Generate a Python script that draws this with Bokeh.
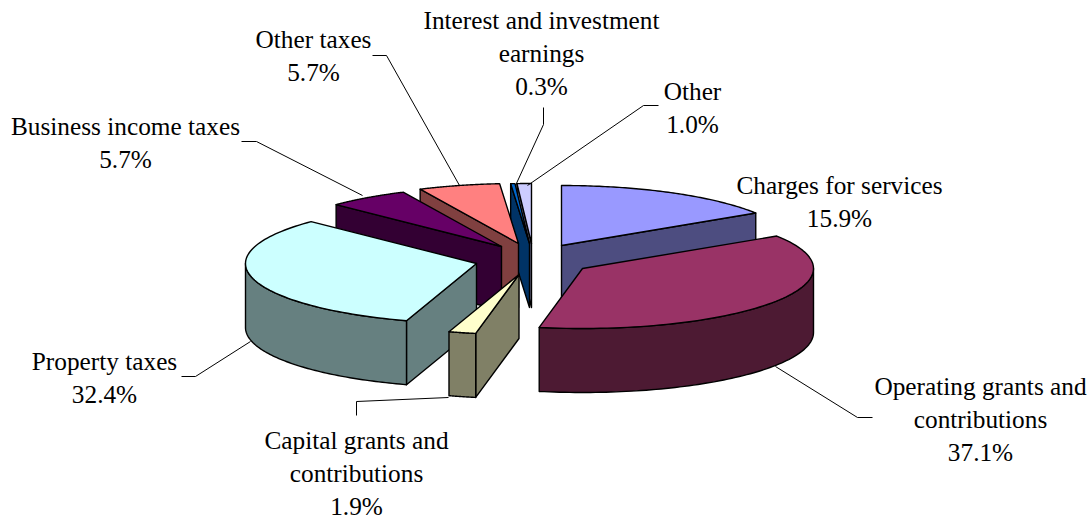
import numpy as np
from bokeh.plotting import figure
from bokeh.models import Range1d
from bokeh.core.properties import value
from bokeh.embed import file_html
from bokeh.resources import INLINE

categories = ["Charges for services", "Operating grants and contributions",
              "Capital grants and contributions", "Property taxes",
              "Business income taxes", "Other taxes",
              "Interest and investment earnings", "Other"]
shares = [15.9, 37.1, 1.9, 32.4, 5.7, 5.7, 0.3, 1.0]
label_lines = [["Charges for services"], ["Operating grants and", "contributions"],
               ["Capital grants and", "contributions"], ["Property taxes"],
               ["Business income taxes"], ["Other taxes"],
               ["Interest and investment", "earnings"], ["Other"]]

top_colors = ["#9999FF", "#993366", "#FFFFCC", "#CCFFFF", "#660066", "#FF8080", "#0066CC", "#CCCCFF"]
wall_colors = ["#4D4D80", "#4D1A33", "#808066", "#668080", "#330033", "#804040", "#003366", "#666680"]

# layout: apex of each exploded slice, in page pixels
apex_x = [561, 582, 518.5, 476, 501, 518, 529, 531]
apex_y = [245, 268, 274, 263, 246, 243, 243, 243]
RX, RY, DEPTH = 231, 60, 64
draw_order = [0, 7, 6, 5, 4, 3, 2, 1]

# layout: first text line centre and line step of each label
label_x = [839, 980, 356, 104, 125, 313, 541, 692]
label_y = [184, 385, 439, 360, 125, 38, 19, 90]
LINE_STEP = 33.3
FONT_SIZE = "25.3px"

leaders = [None,
           ((775, 857, 872), (366, 417, 417)),
           ((356, 356, 448), (415, 401, 397)),
           ((181, 195, 250), (376, 376, 341)),
           ((241, 256, 362), (141, 141, 195)),
           ((372, 386, 459), (55, 55, 185)),
           ((543, 543, 515), (107, 124, 185)),
           ((658, 643, 527), (105, 105, 185))]

W, H = 1091, 521
p = figure(width=W, height=H, output_backend="svg", toolbar_location=None,
           x_range=Range1d(0, W), y_range=Range1d(H, 0),
           min_border=0, outline_line_color=None, background_fill_color="white")
p.xaxis.visible = False
p.yaxis.visible = False
p.grid.visible = False

edges = np.cumsum([0] + shares) * 3.6


def rim(cx, cy, deg):
    r = np.radians(deg)
    return cx + RX * np.sin(r), cy - RY * np.cos(r)


LW = 1.4
for i in draw_order:
    a, b = edges[i], edges[i + 1]
    cx, cy = apex_x[i], apex_y[i]
    # radial cut faces turned towards the viewer
    if 180 <= a < 360:
        x, y = rim(cx, cy, a)
        p.patch([x, cx, cx, x], [y, cy, cy + DEPTH, y + DEPTH],
                fill_color=wall_colors[i], line_color="black", line_width=LW, line_join="round")
    if 0 < b <= 180:
        x, y = rim(cx, cy, b)
        p.patch([x, cx, cx, x], [y, cy, cy + DEPTH, y + DEPTH],
                fill_color=wall_colors[i], line_color="black", line_width=LW, line_join="round")
    # outer wall (front half of the rim only)
    lo, hi = max(a, 90), min(b, 270)
    if hi > lo:
        t = np.linspace(lo, hi, 80)
        x, y = rim(cx, cy, t)
        p.patch(np.r_[x, x[::-1]], np.r_[y, (y + DEPTH)[::-1]],
                fill_color=wall_colors[i], line_color="black", line_width=LW, line_join="round")
    # top face
    t = np.linspace(a, b, 80)
    x, y = rim(cx, cy, t)
    p.patch(np.r_[cx, x], np.r_[cy, y],
            fill_color=top_colors[i], line_color="black", line_width=LW, line_join="round")

for leader in leaders:
    if leader:
        p.line(list(leader[0]), list(leader[1]), line_color="black", line_width=1)

for i, lines in enumerate(label_lines):
    rows = lines + [f"{shares[i]:.1f}%"]
    for k, row in enumerate(rows):
        p.text([label_x[i]], [label_y[i] + k * LINE_STEP], text=[row],
               text_font=value("Liberation Serif"), text_font_size=value(FONT_SIZE),
               text_color="black", text_align="center", text_baseline="middle")

open("out.html", "w").write(file_html(p, INLINE))
